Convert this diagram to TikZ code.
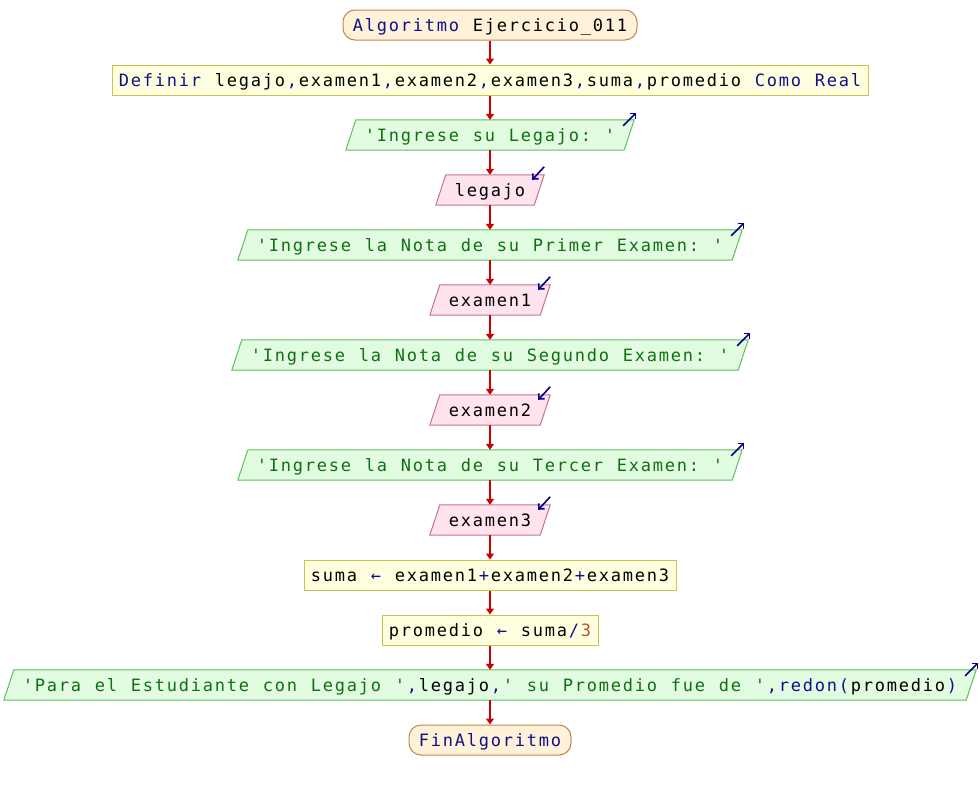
\documentclass[tikz,border=0pt]{standalone}
\usepackage{fontspec}
\usetikzlibrary{arrows.meta,backgrounds}
\newfontfamily\codefont{DejaVu Sans Mono}

\definecolor{kwblue}{HTML}{10108A}
\definecolor{strgreen}{HTML}{107010}
\definecolor{numbrown}{HTML}{B05A30}
\definecolor{flowred}{HTML}{CC0000}
\definecolor{termfill}{HTML}{FFF2D8}
\definecolor{termline}{HTML}{C08848}
\definecolor{procfill}{HTML}{FFFFE0}
\definecolor{procline}{HTML}{C8C450}
\definecolor{outfill}{HTML}{E2FCE2}
\definecolor{outline}{HTML}{60C060}
\definecolor{infill}{HTML}{FFE4F0}
\definecolor{inline}{HTML}{C87090}
\definecolor{ioarrow}{HTML}{000088}

% fixed 12pt pitch for every character
\ExplSyntaxOn
\NewDocumentCommand\mono{m}
  { \str_map_inline:nn {#1} { \hbox_to_wd:nn {12pt} { \hss ##1 \hss } } }
\ExplSyntaxOff
\newcommand\kw[1]{\textcolor{kwblue}{\mono{#1}}}
\newcommand\strg[1]{\textcolor{strgreen}{\mono{#1}}}
\newcommand\num[1]{\textcolor{numbrown}{\mono{#1}}}

% parallelogram drawn behind a node (name, fill, line)
\newcommand\slantbox[3]{%
  \begin{scope}[on background layer]
    \filldraw[fill=#2,draw=#3,line width=1pt]
      ([xshift=5pt]#1.north west) -- ([xshift=5pt]#1.north east) --
      ([xshift=-5pt]#1.south east) -- ([xshift=-5pt]#1.south west) -- cycle;
  \end{scope}}
% small arrow of an output block
\newcommand\outmark[1]{%
  \draw[iomark] ([xshift=-6pt,yshift=-6pt]#1.north east) -- ++(13pt,13pt);}
% small arrow of an input block
\newcommand\inmark[1]{%
  \draw[iomark] ([xshift=5pt,yshift=8pt]#1.north east) -- ++(-12pt,-13pt);}

\tikzset{
  base/.style={font=\codefont\fontsize{17}{17}\selectfont, minimum height=30pt,
    inner ysep=0pt, text height=14.5pt, text depth=1.5pt, inner xsep=6pt},
  terminal/.style={base, draw=termline, fill=termfill, rounded corners=12pt,
    inner xsep=9pt, line width=1pt},
  proc/.style={base, draw=procline, fill=procfill, line width=1pt},
  outblk/.style={base, inner xsep=13pt},
  inblk/.style={base, inner xsep=13pt},
  flow/.style={draw=flowred, line width=1.3pt, -{Triangle[width=8pt,length=6pt]}},
  iomark/.style={draw=ioarrow, line width=1.6pt, -{Straight Barb[length=4pt,width=8pt]}},
}

\begin{document}
\begin{tikzpicture}[x=1pt,y=-1pt]
\useasboundingbox (0,0) rectangle (980,790);

\node[terminal] (start) at (490,25) {\kw{Algoritmo}\mono{ Ejercicio_011}};
\node[proc] (def) at (490,80) {\kw{Definir }\mono{legajo}\kw{,}\mono{examen1}\kw{,}\mono{examen2}\kw{,}\mono{examen3}\kw{,}\mono{suma}\kw{,}\mono{promedio }\kw{Como Real}};
\node[outblk] (o1) at (490,135) {\strg{'Ingrese su Legajo: '}};
\node[inblk] (i1) at (490,190) {\mono{legajo}};
\node[outblk] (o2) at (490,245) {\strg{'Ingrese la Nota de su Primer Examen: '}};
\node[inblk] (i2) at (490,300) {\mono{examen1}};
\node[outblk] (o3) at (490,355) {\strg{'Ingrese la Nota de su Segundo Examen: '}};
\node[inblk] (i3) at (490,410) {\mono{examen2}};
\node[outblk] (o4) at (490,465) {\strg{'Ingrese la Nota de su Tercer Examen: '}};
\node[inblk] (i4) at (490,520) {\mono{examen3}};
\node[proc] (a1) at (490,575) {\mono{suma }\kw{←}\mono{ examen1}\kw{+}\mono{examen2}\kw{+}\mono{examen3}};
\node[proc] (a2) at (490,630) {\mono{promedio }\kw{←}\mono{ suma}\kw{/}\num{3}};
\node[outblk] (o5) at (490,685) {\strg{'Para el Estudiante con Legajo '}\kw{,}\mono{legajo}\kw{,}\strg{' su Promedio fue de '}\kw{,redon(}\mono{promedio}\kw{)}};
\node[terminal] (fin) at (490,740) {\kw{FinAlgoritmo}};

\foreach \n in {o1,o2,o3,o4,o5} {\slantbox{\n}{outfill}{outline}}
\foreach \n in {i1,i2,i3,i4} {\slantbox{\n}{infill}{inline}}
\foreach \n in {o1,o2,o3,o4,o5} {\outmark{\n}}
\foreach \n in {i1,i2,i3,i4} {\inmark{\n}}

\foreach \a/\b in {start/def,def/o1,o1/i1,i1/o2,o2/i2,i2/o3,o3/i3,i3/o4,o4/i4,i4/a1,a1/a2,a2/o5,o5/fin}
  \draw[flow] (\a.south) -- (\b.north);
\end{tikzpicture}
\end{document}
